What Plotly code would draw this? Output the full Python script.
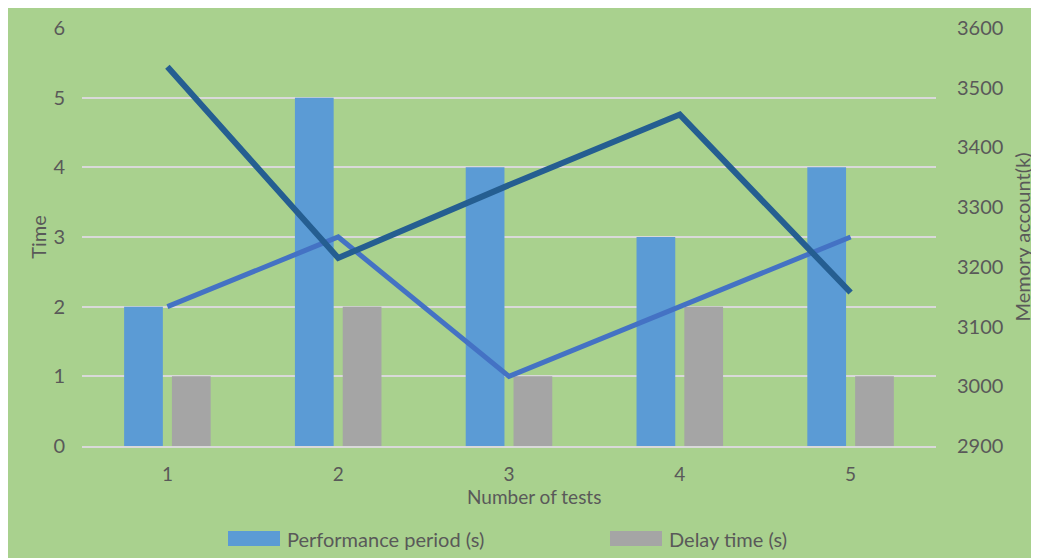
import plotly.graph_objects as go

categories = ["1", "2", "3", "4", "5"]
performance_period = [2, 5, 4, 3, 4]
delay_time = [1, 2, 1, 2, 1]
time_line = [2, 3, 1, 2, 3]
memory_account = [3535, 3215, 3337, 3455, 3157]
legend_names = ["Performance period (s)", "Delay time (s)"]
x_title = "Number of tests"

FONT = "Lato"
TXT = "#595959"
FS = 20
BLUE = "#5b9bd5"
GRAY = "#a5a5a5"

# figure sits at page offset (8, 8)
OFF = 8
W, H = 1039, 558
L, R, T, B = 82 - OFF, 1039 - (936 - OFF), 28 - OFF, 558 - (446 - OFF)
pw, ph = W - L - R, H - T - B

def px2paper_x(px):
    return (px - OFF - L) / pw

def px2paper_y(py):
    return (H - B - (py - OFF)) / ph

fig = go.Figure()

fig.add_trace(go.Bar(
    x=categories, y=performance_period, name=legend_names[0], showlegend=False,
    marker=dict(color=BLUE, line=dict(width=0)),
))
fig.add_trace(go.Bar(
    x=categories, y=delay_time, name=legend_names[1], showlegend=False,
    marker=dict(color=GRAY, line=dict(width=0)),
))
fig.add_trace(go.Scatter(
    x=categories, y=time_line, mode="lines", showlegend=False,
    line=dict(color="#4472c4", width=5),
))
fig.add_trace(go.Scatter(
    x=categories, y=memory_account, mode="lines", showlegend=False,
    yaxis="y2", line=dict(color="#255e91", width=6),
))

# manual legend
legend_items = [(228, BLUE), (610, GRAY)]
for (x0, col), name in zip(legend_items, legend_names):
    fig.add_shape(
        type="rect", xref="paper", yref="paper",
        x0=px2paper_x(x0), x1=px2paper_x(x0 + 52),
        y0=px2paper_y(546), y1=px2paper_y(531),
        fillcolor=col, line=dict(width=0),
    )
    fig.add_annotation(
        xref="paper", yref="paper", x=px2paper_x(x0 + 57), y=px2paper_y(538.5),
        xanchor="left", yanchor="middle", text=name, showarrow=False,
        font=dict(family=FONT, size=FS, color=TXT),
    )

# x-axis title
fig.add_annotation(
    xref="paper", yref="paper", x=px2paper_x(534), y=px2paper_y(497),
    xanchor="center", yanchor="middle", text=x_title, showarrow=False,
    font=dict(family=FONT, size=19, color=TXT),
)

fig.update_layout(
    width=W, height=H,
    margin=dict(l=L, r=R, t=T, b=B, pad=0, autoexpand=False),
    paper_bgcolor="#a9d18e",
    plot_bgcolor="rgba(0,0,0,0)",
    font=dict(family=FONT, color=TXT, size=FS),
    barmode="group",
    bargap=0.44,
    bargroupgap=0.19,
    showlegend=False,
    xaxis=dict(
        type="category", range=[-0.5, 4.5], automargin=False,
        showgrid=False, showline=True, linecolor="#d9d9d9", linewidth=2,
        ticks="", tickfont=dict(size=19, color=TXT),
        ticklabelstandoff=10,
    ),
    yaxis=dict(
        range=[0, 6], dtick=1, showgrid=True, gridcolor="#d9d9d9", gridwidth=2,
        zeroline=False, showline=False, ticks="", automargin=False,
        tickfont=dict(size=FS, color=TXT), ticklabelstandoff=16,
        title=dict(text="Time", font=dict(size=FS, color=TXT), standoff=1),
    ),
    yaxis2=dict(
        range=[2900, 3600], dtick=100, overlaying="y", side="right", automargin=False,
        showgrid=False, zeroline=False, showline=False, ticks="",
        tickfont=dict(size=FS, color=TXT), ticklabelstandoff=20,
        title=dict(text="Memory account(k)", font=dict(size=FS, color=TXT), standoff=13),
    ),
)

fig.write_html("out.html")
